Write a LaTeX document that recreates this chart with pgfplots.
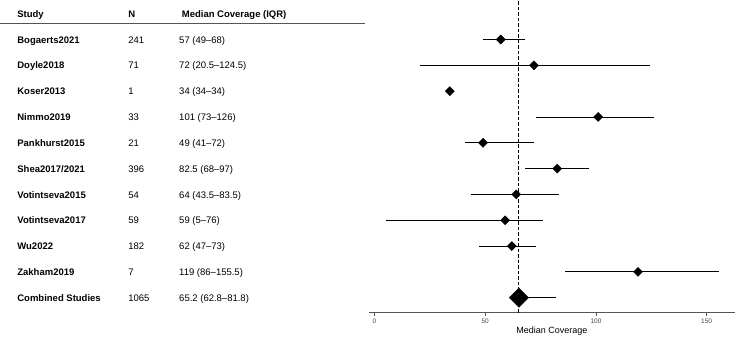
\documentclass[border=0pt]{standalone}
\usepackage{fontspec}
\setmainfont{Liberation Sans}
\usepackage{pgfplots}
\usepackage{pgfplotstable}
\pgfplotsset{compat=1.18}

% Study-level median coverage with interquartile range
\pgfplotstableread[col sep=comma]{
row,med,lo,hi
1,57,49,68
2,72,20.5,124.5
3,34,34,34
4,101,73,126
5,49,41,72
6,82.5,68,97
7,64,43.5,83.5
8,59,5,76
9,62,47,73
10,119,86,155.5
}\studies

% Pooled estimate
\pgfplotstableread[col sep=comma]{
row,med,lo,hi
11,65.2,62.8,81.8
}\pooled

\definecolor{axisgray}{HTML}{555555}
\definecolor{tickgray}{HTML}{444444}

\tikzset{cell/.style={anchor=base west, inner sep=0pt, font=\fontsize{9.5}{11}\selectfont}}

\newcommand{\rowtext}[4]{%
  \node[cell, font=\fontsize{9.5}{11}\selectfont\bfseries] at (axis cs:-161.4,{-#1-0.14}) {#2};
  \node[cell] at (axis cs:-111.3,{-#1-0.14}) {#3};
  \node[cell] at (axis cs:-88.3,{-#1-0.14}) {#4};
}

\begin{document}
\begin{tikzpicture}
\begin{axis}[
  at={(369pt,24.3pt)}, anchor=south west,
  scale only axis, width=366pt, height=312.7pt,
  xmin=-2.5, xmax=162.8, ymin=-11.58, ymax=0.53,
  axis x line*=bottom, axis y line=none,
  x axis line style={-, draw=axisgray, line width=1.4pt},
  xtick={0,50,100,150},
  tick align=outside, major tick length=3pt,
  x tick style={draw=axisgray, line width=0.6pt},
  /pgf/number format/assume math mode=true,
  tick label style={font=\fontsize{6.5}{7}\selectfont, text=tickgray},
  xlabel={Median Coverage},
  x label style={at={(axis description cs:0.5,0)}, anchor=base, yshift=-20.6pt,
                 font=\fontsize{9}{10}\selectfont},
  clip=false,
]
% reference line at the pooled median
\addplot[black, line width=0.9pt, dash pattern=on 3.5pt off 2pt]
  coordinates {(65.2,-11.58) (65.2,0.53)};

% interquartile ranges
\addplot[draw=none, forget plot,
  error bars/.cd, x dir=both, x explicit, error mark=none,
  error bar style={black, line width=0.9pt}]
  table[x=med, y expr=-\thisrow{row},
        x error plus expr=\thisrow{hi}-\thisrow{med},
        x error minus expr=\thisrow{med}-\thisrow{lo}] {\studies};
\addplot[draw=none, forget plot,
  error bars/.cd, x dir=both, x explicit, error mark=none,
  error bar style={black, line width=0.9pt}]
  table[x=med, y expr=-\thisrow{row},
        x error plus expr=\thisrow{hi}-\thisrow{med},
        x error minus expr=\thisrow{med}-\thisrow{lo}] {\pooled};

% medians
\addplot[only marks, mark=square*, mark size=3.2pt,
  mark options={rotate=45, fill=black, draw=black}]
  table[x=med, y expr=-\thisrow{row}] {\studies};
\addplot[only marks, mark=square*, mark size=6.8pt,
  mark options={rotate=45, fill=black, draw=black}]
  table[x=med, y expr=-\thisrow{row}] {\pooled};

% table to the left of the plot
\node[cell, font=\fontsize{9.5}{11}\selectfont\bfseries] at (axis cs:-161.4,-0.129) {Study};
\node[cell, font=\fontsize{9.5}{11}\selectfont\bfseries] at (axis cs:-111.3,-0.129) {N};
\node[cell, font=\fontsize{9.5}{11}\selectfont\bfseries] at (axis cs:-87.1,-0.129) {Median Coverage (IQR)};
\draw[axisgray, line width=1.3pt] (axis cs:-169.2,-0.373) -- (axis cs:-4.3,-0.373);

\rowtext{1}{Bogaerts2021}{241}{57 (49–68)}
\rowtext{2}{Doyle2018}{71}{72 (20.5–124.5)}
\rowtext{3}{Koser2013}{1}{34 (34–34)}
\rowtext{4}{Nimmo2019}{33}{101 (73–126)}
\rowtext{5}{Pankhurst2015}{21}{49 (41–72)}
\rowtext{6}{Shea2017/2021}{396}{82.5 (68–97)}
\rowtext{7}{Votintseva2015}{54}{64 (43.5–83.5)}
\rowtext{8}{Votintseva2017}{59}{59 (5–76)}
\rowtext{9}{Wu2022}{182}{62 (47–73)}
\rowtext{10}{Zakham2019}{7}{119 (86–155.5)}
\rowtext{11}{Combined Studies}{1065}{65.2 (62.8–81.8)}
\end{axis}
\pgfresetboundingbox
\path[use as bounding box] (0,0) rectangle (735pt,337pt);
\end{tikzpicture}
\end{document}
